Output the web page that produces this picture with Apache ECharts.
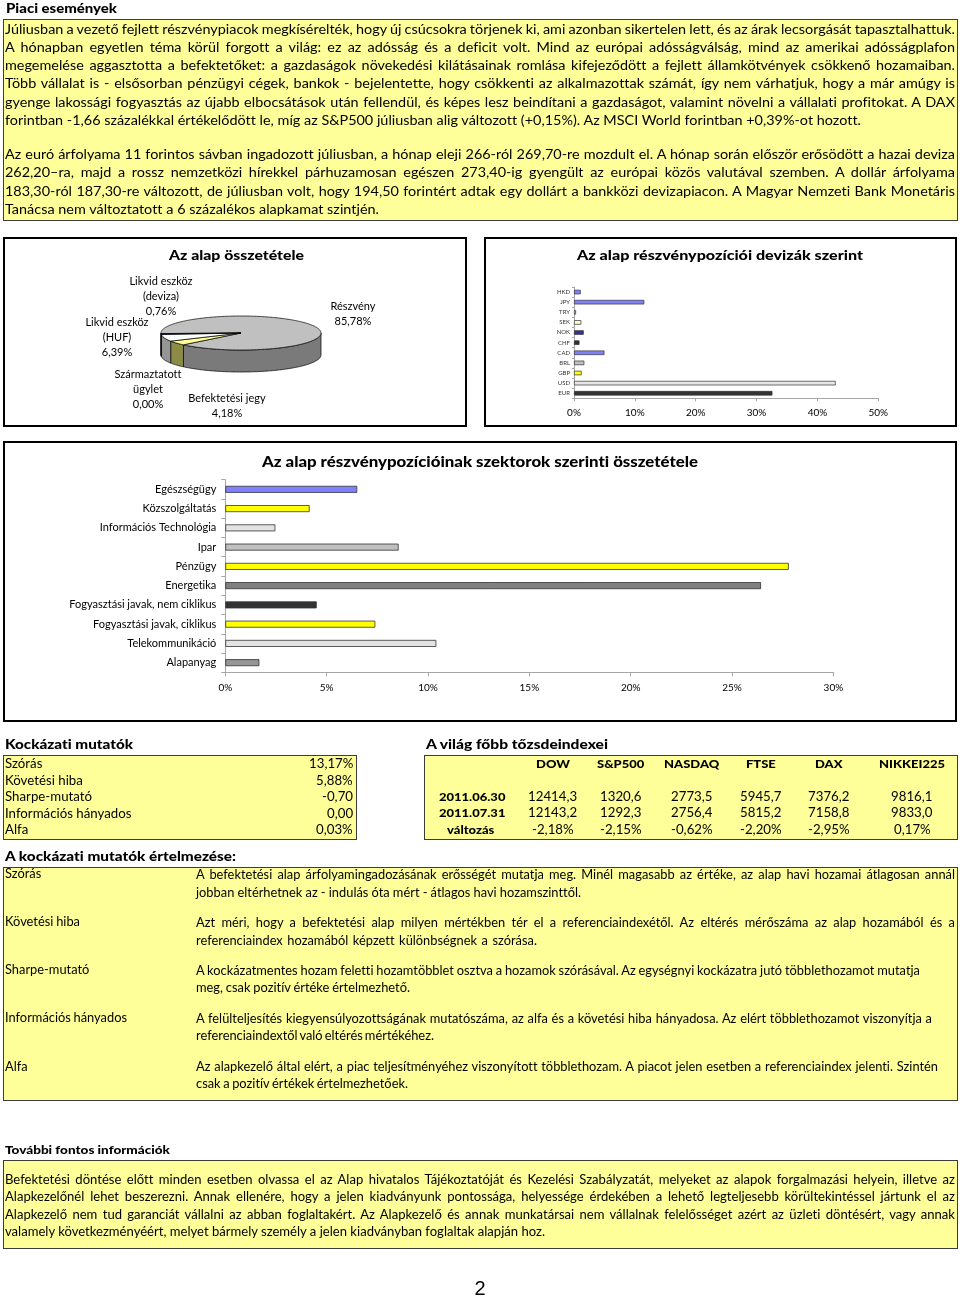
<!DOCTYPE html>
<html lang="hu"><head><meta charset="utf-8">
<script src="https://cdn.jsdelivr.net/npm/echarts@6/dist/echarts.min.js"></script>
<style>
html,body{margin:0;padding:0;background:#fff;}
#page{position:relative;width:960px;height:1300px;overflow:hidden;font-family:Lato,'Open Sans',sans-serif;color:#000;font-variant-ligatures:none;}
#chart{position:absolute;left:0;top:0;width:960px;height:1300px;}
.box{position:absolute;box-sizing:border-box;}
.yb{background:#FFFF99;border:1.5px solid #3c3c3c;}
.cb{border:2px solid #000;background:transparent;}
.t{position:absolute;white-space:nowrap;transform-origin:0 50%;}
</style></head><body>
<div id="page">
  <div class="box yb" style="left:3px;top:19px;width:955px;height:202px"></div>
  <div class="box yb" style="left:3px;top:755px;width:354px;height:85px"></div>
  <div class="box yb" style="left:424px;top:755px;width:534px;height:85px"></div>
  <div class="box yb" style="left:3px;top:867px;width:955px;height:234px"></div>
  <div class="box yb" style="left:3px;top:1160px;width:955px;height:89px"></div>
  <div id="chart"></div>
  <div class="box cb" style="left:3px;top:237px;width:464px;height:190px"></div>
  <div class="box cb" style="left:484px;top:237px;width:473px;height:190px"></div>
  <div class="box cb" style="left:3px;top:441px;width:954px;height:281px"></div>
  <div id="txt"></div>
</div>
<script>
// ---------------- DATA ----------------
const pieNames = ['Részvény', 'Befektetési jegy', 'Származtatott\nügylet', 'Likvid eszköz\n(HUF)', 'Likvid eszköz\n(deviza)'];
const pieValues = [85.78, 4.18, 0.00, 6.39, 0.76];

const currencies = ['HKD', 'JPY', 'TRY', 'SEK', 'NOK', 'CHF', 'CAD', 'BRL', 'GBP', 'USD', 'EUR'];
const currencyValues = [1.1, 11.55, 0.33, 1.2, 1.6, 0.9, 5.0, 1.7, 1.26, 43.0, 32.6];

const sectors = ['Egészségügy', 'Közszolgáltatás', 'Információs Technológia', 'Ipar', 'Pénzügy', 'Energetika',
  'Fogyasztási javak, nem ciklikus', 'Fogyasztási javak, ciklikus', 'Telekommunikáció', 'Alapanyag'];
const sectorValues = [6.51, 4.16, 2.47, 8.55, 27.8, 26.43, 4.51, 7.4, 10.41, 1.68];

const currencyTicks = [0, 10, 20, 30, 40, 50];
const sectorTicks = [0, 5, 10, 15, 20, 25, 30];

const riskLabels = ['Szórás', 'Követési hiba', 'Sharpe-mutató', 'Információs hányados', 'Alfa'];
const riskValues = ['13,17%', '5,88%', '-0,70', '0,00', '0,03%'];

const indexNames = ['DOW', 'S&P500', 'NASDAQ', 'FTSE', 'DAX', 'NIKKEI225'];
const indexDates = ['2011.06.30', '2011.07.31', 'változás'];
const index0630 = ['12414,3', '1320,6', '2773,5', '5945,7', '7376,2', '9816,1'];
const index0731 = ['12143,2', '1292,3', '2756,4', '5815,2', '7158,8', '9833,0'];
const indexChange = ['-2,18%', '-2,15%', '-0,62%', '-2,20%', '-2,95%', '0,17%'];

// ---------------- STYLES ----------------
const pieTopColors = ['#C0C0C0', '#FFFF99', '#9999FF', '#FFFFFF', '#333399'];
const pieSideColors = ['#7A7A7A', '#8C8C46', '#5C5C99', '#959595', '#1F1F5C'];
const currencyColors = ['#8080FF', '#8080FF', '#C8C8C8', '#FFFFCC', '#333399', '#333333', '#8080FF', '#C0C0C0', '#FFFF00', '#E6E6E6', '#333333'];
const sectorColors = ['#8080FF', '#FFFF00', '#E3E3E3', '#C0C0C0', '#FFFF00', '#808080', '#333333', '#FFFF00', '#E3E3E3', '#969696'];
const PIE = { cx: 241, cy: 333, rx: 80, ry: 17, depth: 22, start: 268 };
const pieLabelPos = [[353, 314], [227, 405.5], [148, 389], [117, 337.5], [161, 296.3]];

// ---------------- TEXT ----------------
const txt = document.getElementById('txt');
const blocks = [];
function addBlock(spec) {
  const els = spec.lines.map(l => {
    const d = document.createElement('div');
    d.className = 't';
    d.textContent = l[0];
    d.style.fontSize = spec.fs + 'px';
    d.style.lineHeight = (spec.fs * 1.2) + 'px';
    d.style.fontWeight = spec.wt || 400;
    d.style.top = (l[2] - 0.657 * spec.fs) + 'px';
    d.style.left = l[1] + 'px';
    txt.appendChild(d);
    return d;
  });
  blocks.push({ spec, els });
}
function fitAll() {
  blocks.forEach(({ spec, els }) => {
    let sw = 0, sn = 0; const nats = [];
    els.forEach((e, i) => {
      e.style.transform = 'none'; e.style.wordSpacing = '0px';
      const n = e.getBoundingClientRect().width; nats.push(n);
      const l = spec.lines[i];
      if (l[4] === 'r' && l[3]) { sw += l[3]; sn += n; }
    });
    const sx = spec.sx || (sn ? sw / sn : 1);
    els.forEach((e, i) => {
      const l = spec.lines[i];
      const sp = (l[0].match(/ /g) || []).length;
      let ws = 0;
      if ((l[4] === 'r' || l[4] === 'j') && l[3] && sp) ws = (l[3] / sx - nats[i]) / sp;
      e.style.wordSpacing = ws + 'px';
      e.style.transform = 'scaleX(' + sx + ')';
      const fw = (nats[i] + ws * sp) * sx;
      const a = spec.align || 'l';
      if (a === 'c') e.style.left = (l[1] - fw / 2) + 'px';
      else if (a === 'r') e.style.left = (l[1] - fw) + 'px';
      else e.style.left = l[1] + 'px';
    });
  });
}

// headings
addBlock({ fs: 12.5, wt: 900, lines: [['Piaci események', 6, 9, 111, 'r']] });
addBlock({ fs: 13, wt: 900, lines: [['Kockázati mutatók', 5, 745.5, 128, 'r']] });
addBlock({ fs: 13, wt: 900, lines: [['A világ főbb tőzsdeindexei', 426, 745.5, 182, 'r']] });
addBlock({ fs: 12.5, wt: 900, lines: [['A kockázati mutatók értelmezése:', 5, 857.5, 231, 'r']] });
addBlock({ fs: 11, wt: 900, lines: [['További fontos információk', 5, 1150, 165, 'r']] });
addBlock({ fs: 14, wt: 900, align: 'c', lines: [['Az alap összetétele', 236.5, 256.5, 135, 'r']] });
addBlock({ fs: 14, wt: 900, align: 'c', lines: [['Az alap részvénypozíciói devizák szerint', 720, 256.5, 286, 'r']] });
addBlock({ fs: 14.5, wt: 900, align: 'c', lines: [['Az alap részvénypozícióinak szektorok szerinti összetétele', 480, 463, 436, 'r']] });

// top text box
addBlock({ fs: 12.5, lines: [
  ['Júliusban a vezető fejlett részvénypiacok megkísérelték, hogy új csúcsokra törjenek ki, ami azonban sikertelen lett, és az árak lecsorgását tapasztalhattuk.', 5, 29.8, 950, 'j'],
  ['A hónapban egyetlen téma körül forgott a világ: ez az adósság és a deficit volt. Mind az európai adósságválság, mind az amerikai adósságplafon', 5, 48.1, 950, 'j'],
  ['megemelése aggasztotta a befektetőket: a gazdaságok növekedési kilátásainak romlása kifejeződött a fejlett államkötvények csökkenő hozamaiban.', 5, 66.4, 950, 'j'],
  ['Több vállalat is - elsősorban pénzügyi cégek, bankok - bejelentette, hogy csökkenti az alkalmazottak számát, így nem várhatjuk, hogy a már amúgy is', 5, 84.7, 950, 'j'],
  ['gyenge lakossági fogyasztás az újabb elbocsátások után fellendül, és képes lesz beindítani a gazdaságot, valamint növelni a vállalati profitokat. A DAX', 5, 102.9, 950, 'j'],
  ['forintban -1,66 százalékkal értékelődött le, míg az S&P500 júliusban alig változott (+0,15%). Az MSCI World forintban +0,39%-ot hozott.', 5, 121.1, 856, 'r'],
  ['Az euró árfolyama 11 forintos sávban ingadozott júliusban, a hónap eleji 266-ról 269,70-re mozdult el. A hónap során először erősödött a hazai deviza', 5, 155.2, 950, 'j'],
  ['262,20–ra, majd a rossz nemzetközi hírekkel párhuzamosan egészen 273,40-ig gyengült az európai közös valutával szemben. A dollár árfolyama', 5, 173.5, 950, 'j'],
  ['183,30-ról 187,30-re változott, de júliusban volt, hogy 194,50 forintért adtak egy dollárt a bankközi devizapiacon. A Magyar Nemzeti Bank Monetáris', 5, 191.8, 950, 'j'],
  ['Tanácsa nem változtatott a 6 százalékos alapkamat szintjén.', 5, 210.2, 374, 'r']
]});

// risk table
const riskY = [765, 781.5, 798, 814.5, 831];
addBlock({ fs: 13, sx: 1.02, lines: riskLabels.map((t, i) => [t, 5, riskY[i], 0, 'n']) });
addBlock({ fs: 13, sx: 1.02, align: 'r', lines: riskValues.map((t, i) => [t, 353, riskY[i], 0, 'n']) });

// index table
const colX = [553, 621, 692, 761, 829, 912];
const hdrW = [28, 48, 54, 25, 26, 65];
addBlock({ fs: 11.5, wt: 900, align: 'c', lines: indexNames.map((t, i) => [t, colX[i], 764.5, hdrW[i], 'r'])
  .concat([[indexDates[0], 472, 797.5, 72, 'r'], [indexDates[1], 472, 814, 72, 'r'], [indexDates[2], 471, 830.5, 50, 'r']]) });
addBlock({ fs: 13, sx: 1.02, align: 'c', lines:
  index0630.map((t, i) => [t, colX[i], 797.5, 0, 'n'])
  .concat(index0731.map((t, i) => [t, colX[i], 814, 0, 'n']))
  .concat(indexChange.map((t, i) => [t, colX[i], 830.5, 0, 'n'])) });

// explanation block
addBlock({ fs: 13, lines: [
  ['Szórás', 5, 874.5, 38, 'r'],
  ['Követési hiba', 5, 922.5, 75, 'r'],
  ['Sharpe-mutató', 5, 970.6, 80, 'r'],
  ['Információs hányados', 5, 1019, 122, 'r'],
  ['Alfa', 5, 1067.4, 22, 'r'],
  ['A befektetési alap árfolyamingadozásának erősségét mutatja meg. Minél magasabb az értéke, az alap havi hozamai átlagosan annál', 196, 875.7, 759, 'j'],
  ['jobban eltérhetnek az - indulás óta mért - átlagos havi hozamszinttől.', 196, 893.3, 385, 'r'],
  ['Azt méri, hogy a befektetési alap milyen mértékben tér el a referenciaindexétől. Az eltérés mérőszáma az alap hozamából és a', 196, 923.8, 759, 'j'],
  ['referenciaindex hozamából képzett különbségnek a szórása.', 196, 941.7, 341, 'r'],
  ['A kockázatmentes hozam feletti hozamtöbblet osztva a hozamok szórásával. Az egységnyi kockázatra jutó többlethozamot mutatja', 196, 971.2, 724, 'r'],
  ['meg, csak pozitív értéke értelmezhető.', 196, 989, 214, 'r'],
  ['A felülteljesítés kiegyensúlyozottságának mutatószáma, az alfa és a követési hiba hányadosa. Az elért többlethozamot viszonyítja a', 196, 1019.8, 736, 'r'],
  ['referenciaindextől való eltérés mértékéhez.', 196, 1037, 238, 'r'],
  ['Az alapkezelő által elért, a piac teljesítményéhez viszonyított többlethozam. A piacot jelen esetben a referenciaindex jelenti. Szintén', 196, 1068, 742, 'r'],
  ['csak a pozitív értékek értelmezhetőek.', 196, 1085, 212, 'r']
]});

// bottom block
addBlock({ fs: 12.5, lines: [
  ['Befektetési döntése előtt minden esetben olvassa el az Alap hivatalos Tájékoztatóját és Kezelési Szabályzatát, melyeket az alapok forgalmazási helyein, illetve az', 5, 1180, 950, 'j'],
  ['Alapkezelőnél lehet beszerezni. Annak ellenére, hogy a jelen kiadványunk pontossága, helyessége érdekében a lehető legteljesebb körültekintéssel jártunk el az', 5, 1197.5, 950, 'j'],
  ['Alapkezelő nem tud garanciát vállalni az abban foglaltakért. Az Alapkezelő és annak munkatársai nem vállalnak felelősséget azért az üzleti döntésért, vagy annak', 5, 1215, 950, 'j'],
  ['valamely következményéért, melyet bármely személy a jelen kiadványban foglaltak alapján hoz.', 5, 1232.5, 540, 'r']
]});

// page number
(function () {
  const d = document.createElement('div');
  d.className = 't';
  d.textContent = '2';
  d.style.cssText = 'position:absolute;left:0;width:960px;text-align:center;top:1277px;font:20px "Liberation Sans",Arial,sans-serif;';
  txt.appendChild(d);
})();

fitAll();
if (document.fonts && document.fonts.ready) document.fonts.ready.then(fitAll);

// ---------------- CHARTS ----------------
const pieTotal = pieValues.reduce((a, b) => a + b, 0);
function piePt(theta, dy) {
  const r = theta * Math.PI / 180;
  return [PIE.cx + PIE.rx * Math.sin(r), PIE.cy - PIE.ry * Math.cos(r) + (dy || 0)];
}
function arcPts(a, b, dy) {
  const pts = []; const n = Math.max(2, Math.ceil(Math.abs(b - a)));
  for (let k = 0; k <= n; k++) pts.push(piePt(a + (b - a) * k / n, dy));
  return pts;
}
function fmtPct(v) { return v.toFixed(2).replace('.', ',') + '%'; }

function renderPie(params, api) {
  const i = params.dataIndex;
  let before = 0;
  for (let k = 0; k < i; k++) before += pieValues[k];
  const v = api.value(0);
  const a = PIE.start + before / pieTotal * 360;
  const b = a + v / pieTotal * 360;
  const children = [];
  if (b > a) {
    for (let m = -1; m <= 2; m++) {
      const s = Math.max(a, 90 + 360 * m), e = Math.min(b, 270 + 360 * m);
      if (e > s) {
        const pts = arcPts(s, e, 0).concat(arcPts(e, s, PIE.depth));
        children.push({ type: 'polygon', shape: { points: pts },
          style: { fill: pieSideColors[i], stroke: '#000', lineWidth: 0.7 } });
      }
    }
    children.push({ type: 'polygon', shape: { points: [[PIE.cx, PIE.cy]].concat(arcPts(a, b, 0)) },
      style: { fill: pieTopColors[i], stroke: '#000', lineWidth: 0.7 } });
  }
  children.push({ type: 'text', style: {
    text: pieNames[i] + '\n' + fmtPct(v), x: pieLabelPos[i][0], y: pieLabelPos[i][1],
    align: 'center', verticalAlign: 'middle', fontSize: 11, lineHeight: 15,
    fontFamily: 'Lato', fill: '#000' } });
  return { type: 'group', children };
}

const axisGray = '#A6A6A6';
const chart = echarts.init(document.getElementById('chart'), null, { renderer: 'canvas' });
chart.setOption({
  animation: false,
  backgroundColor: 'transparent',
  textStyle: { fontFamily: 'Lato' },
  grid: [
    { left: 574, top: 287, width: 304.3, height: 111.3, containLabel: false },
    { left: 225.3, top: 479.7, width: 608.1, height: 192.6, containLabel: false }
  ],
  xAxis: [
    { gridIndex: 0, type: 'value', min: currencyTicks[0], max: currencyTicks[currencyTicks.length - 1], interval: currencyTicks[1] - currencyTicks[0],
      axisLabel: { formatter: '{value}%', fontSize: 10, margin: 9, color: '#000', fontFamily: 'Lato' },
      axisLine: { show: true, lineStyle: { color: axisGray, width: 1 } },
      axisTick: { show: true, length: 3, lineStyle: { color: axisGray } },
      splitLine: { show: false } },
    { gridIndex: 1, type: 'value', min: sectorTicks[0], max: sectorTicks[sectorTicks.length - 1], interval: sectorTicks[1] - sectorTicks[0],
      axisLabel: { formatter: '{value}%', fontSize: 10, margin: 10, color: '#000', fontFamily: 'Lato' },
      axisLine: { show: true, lineStyle: { color: axisGray, width: 1 } },
      axisTick: { show: true, length: 4, lineStyle: { color: axisGray } },
      splitLine: { show: false } }
  ],
  yAxis: [
    { gridIndex: 0, type: 'category', data: currencies, inverse: true,
      axisLabel: { fontSize: 6, margin: 4, color: '#333', fontFamily: 'Lato' },
      axisLine: { show: true, lineStyle: { color: axisGray } },
      axisTick: { show: true, length: 2, lineStyle: { color: axisGray } },
      splitLine: { show: false } },
    { gridIndex: 1, type: 'category', data: sectors, inverse: true,
      axisLabel: { fontSize: 11, margin: 9, color: '#000', fontFamily: 'Lato' },
      axisLine: { show: true, lineStyle: { color: axisGray } },
      axisTick: { show: true, length: 4, lineStyle: { color: axisGray } },
      splitLine: { show: false } }
  ],
  series: [
    { type: 'bar', xAxisIndex: 0, yAxisIndex: 0, barWidth: 4.5, silent: true,
      data: currencyValues.map((v, i) => ({ value: v, itemStyle: { color: currencyColors[i] } })),
      itemStyle: { borderColor: '#333', borderWidth: 0.7 } },
    { type: 'bar', xAxisIndex: 1, yAxisIndex: 1, barWidth: 7, silent: true,
      data: sectorValues.map((v, i) => ({ value: v, itemStyle: { color: sectorColors[i] } })),
      itemStyle: { borderColor: '#333', borderWidth: 0.8 } },
    { type: 'custom', coordinateSystem: 'none', silent: true, renderItem: renderPie,
      data: pieValues.map((v, i) => ({ value: v, name: pieNames[i] })) }
  ]
});
</script>
</body></html>
